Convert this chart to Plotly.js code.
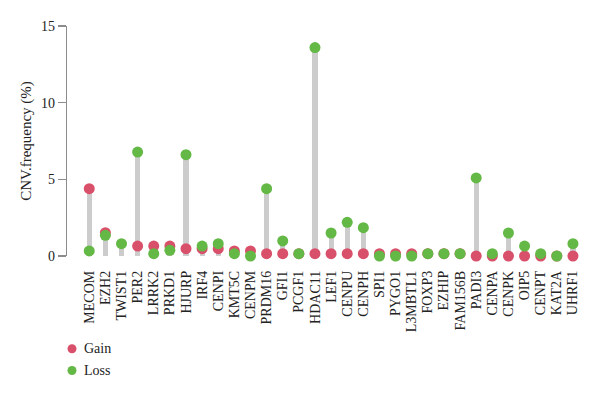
<!DOCTYPE html>
<html>
<head>
<meta charset="utf-8">
<script src="https://cdn.plot.ly/plotly-3.0.1.min.js"></script>
<style>html,body{margin:0;padding:0;background:#fff;}#chart{width:600px;height:395px;}</style>
</head>
<body>
<div id="chart"></div>
<script>
const geneNames = ["MECOM","EZH2","TWIST1","PER2","LRRK2","PRKD1","HJURP","IRF4","CENPI","KMT5C","CENPM","PRDM16","GFI1","PCGF1","HDAC11","LEF1","CENPU","CENPH","SPI1","PYGO1","L3MBTL1","FOXP3","EZHIP","FAM156B","PADI3","CENPA","CENPK","OIP5","CENPT","KAT2A","UHRF1"];
const gainValues = [4.39,1.52,null,0.65,0.65,0.65,0.48,0.48,0.48,0.33,0.33,0.15,0.15,0.15,0.15,0.15,0.15,0.15,0.15,0.15,0.15,0.15,0.15,0.15,0,0,0,0,0,0,0];
const lossValues = [0.33,1.35,0.80,6.78,0.15,0.37,6.61,0.65,0.80,0.15,0,4.39,0.98,0.15,13.59,1.50,2.20,1.85,0,0,0,0.15,0.15,0.15,5.09,0.15,1.50,0.65,0.15,0,0.80];
const yTickVals = [0,5,10,15];
const legendLabels = ["Gain","Loss"];

const gainColor = "#d9506b";
const lossColor = "#63b846";
const serif = "Liberation Serif, Times New Roman, serif";
const n = geneNames.length;
const stemTop = gainValues.map((g,i)=>Math.max(g || 0, lossValues[i] || 0));

const traces = [
  {type:"bar", x:geneNames, y:stemTop, width:0.32, marker:{color:"#cccccc"}, hoverinfo:"skip", showlegend:false},
  {type:"scatter", mode:"markers", x:geneNames, y:gainValues, name:legendLabels[0], marker:{color:gainColor, size:11}, cliponaxis:false, showlegend:false},
  {type:"scatter", mode:"markers", x:geneNames, y:lossValues, name:legendLabels[1], marker:{color:lossColor, size:11}, cliponaxis:false, showlegend:false}
];

const L = 66.7, T = 26, plotW = 514.4, plotH = 229.7;
function px(xp){return (xp-L)/plotW;}
function py(yp){return (T+plotH-yp)/plotH;}

const layout = {
  width:600, height:395,
  margin:{l:L, r:600-L-plotW, t:T, b:395-T-plotH, pad:0},
  paper_bgcolor:"#fff", plot_bgcolor:"#fff",
  font:{family:serif, size:13, color:"#222"},
  showlegend:false,
  bargap:0,
  xaxis:{type:"category", range:[-1.38, n-0.5], tickmode:"array", tickvals:geneNames, ticktext:geneNames, tickangle:-90, showgrid:false, zeroline:false, showline:false, ticks:"", ticklabelstandoff:11, tickfont:{family:serif, size:14, color:"#222"}, fixedrange:true},
  yaxis:{range:[0,15], tickvals:yTickVals, showgrid:false, zeroline:false, showline:true, linecolor:"#8c8c8c", linewidth:1.3, ticks:"outside", ticklen:8, tickcolor:"#8c8c8c", tickwidth:1.3, tickfont:{family:serif, size:14, color:"#222"},
    title:{text:"CNV.frequency (%)", font:{family:serif, size:15, color:"#222"}, standoff:5}, fixedrange:true},
  shapes:[
    {type:"circle", xref:"paper", yref:"paper", xsizemode:"pixel", ysizemode:"pixel", xanchor:px(71.7), yanchor:py(348.3), x0:-4.5, x1:4.5, y0:-4.5, y1:4.5, fillcolor:gainColor, line:{width:0}},
    {type:"circle", xref:"paper", yref:"paper", xsizemode:"pixel", ysizemode:"pixel", xanchor:px(71.7), yanchor:py(370), x0:-4.5, x1:4.5, y0:-4.5, y1:4.5, fillcolor:lossColor, line:{width:0}}
  ],
  annotations:[
    {xref:"paper", yref:"paper", x:px(81.5), y:py(348.3), text:legendLabels[0], showarrow:false, xanchor:"left", yanchor:"middle", font:{family:serif, size:14, color:"#222"}},
    {xref:"paper", yref:"paper", x:px(81.5), y:py(370), text:legendLabels[1], showarrow:false, xanchor:"left", yanchor:"middle", font:{family:serif, size:14, color:"#222"}}
  ]
};

Plotly.newPlot("chart", traces, layout, {displayModeBar:false, staticPlot:true});
</script>
</body>
</html>
